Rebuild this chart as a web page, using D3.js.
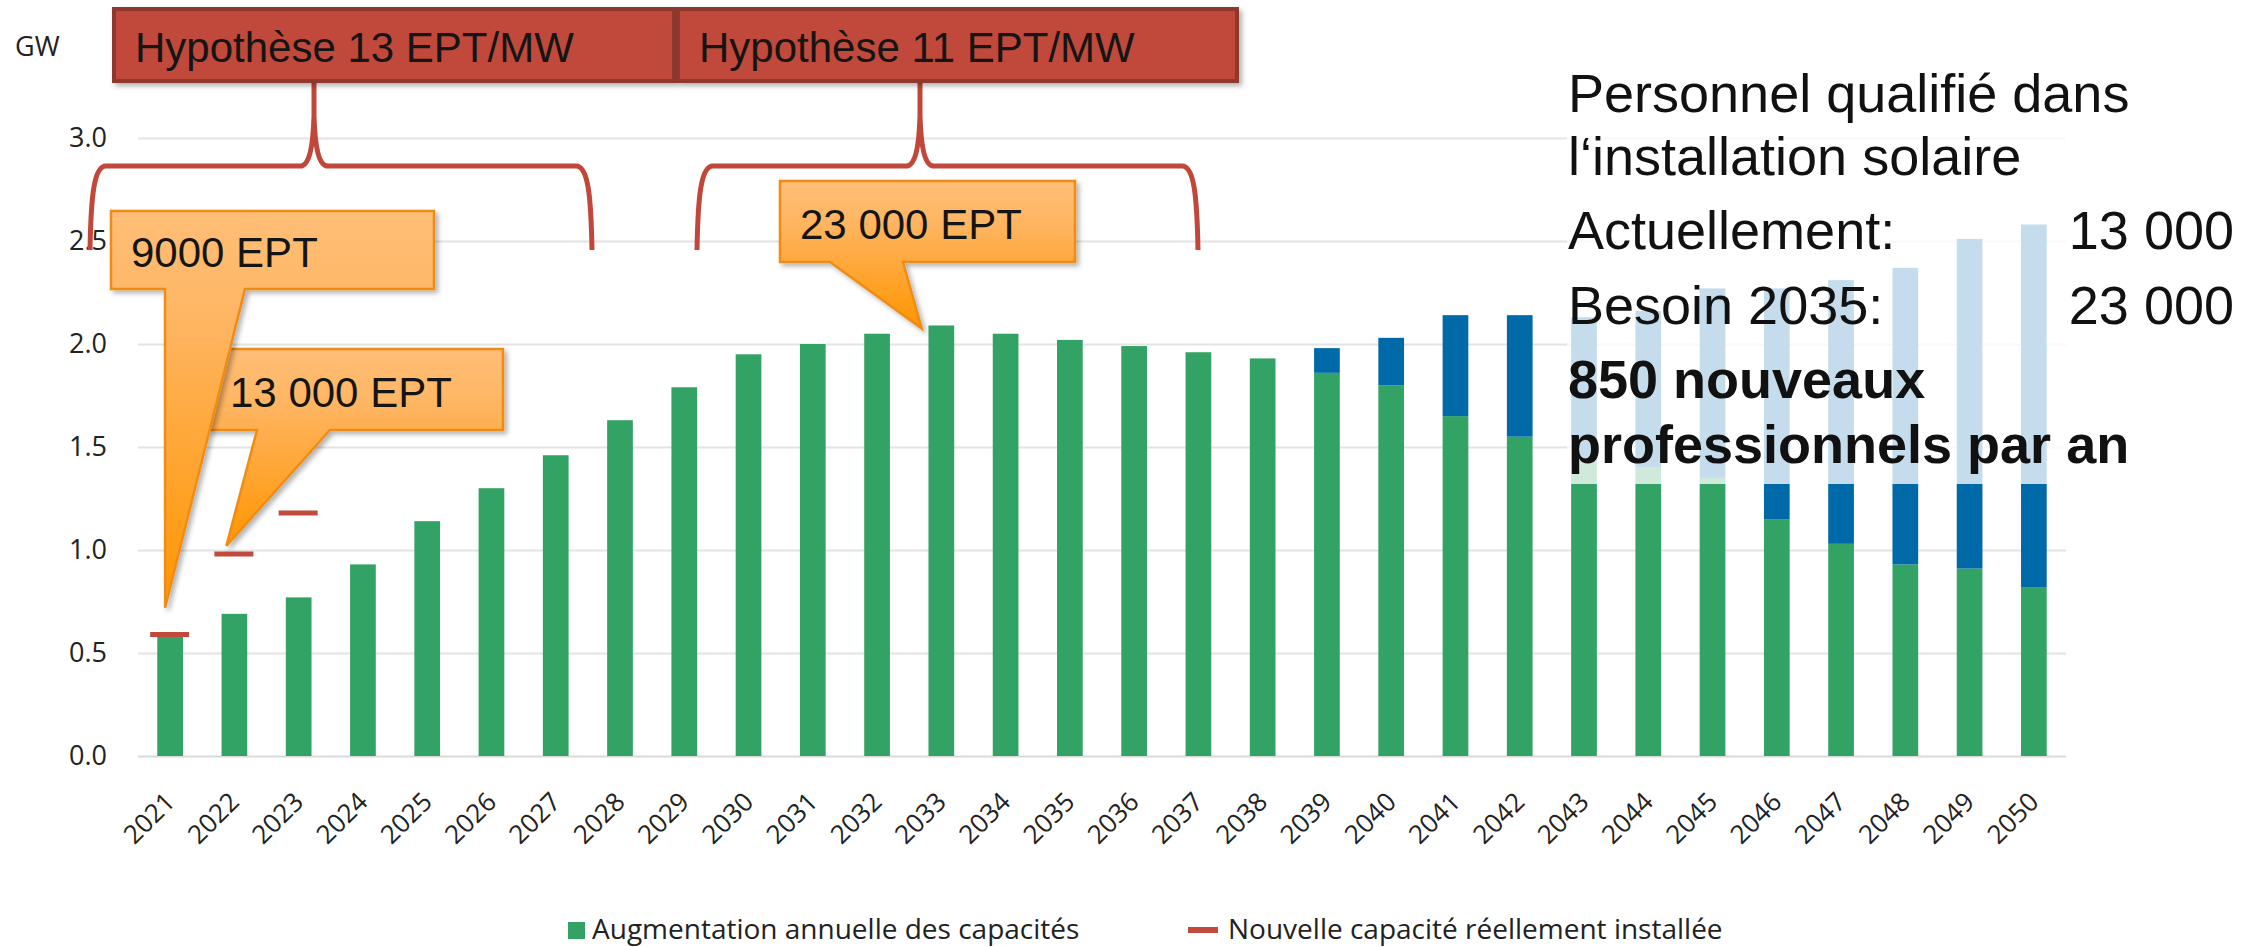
<!DOCTYPE html>
<html><head><meta charset="utf-8">
<script src="https://cdn.jsdelivr.net/npm/d3@7"></script>
<style>
html,body{margin:0;padding:0;background:#fff;}
svg{display:block;}
</style>
</head><body>
<script>
// ---- data ----
const years = ["2021","2022","2023","2024","2025","2026","2027","2028","2029","2030","2031","2032","2033","2034","2035","2036","2037","2038","2039","2040","2041","2042","2043","2044","2045","2046","2047","2048","2049","2050"];
const greenValues = [0.58,0.69,0.77,0.93,1.14,1.30,1.46,1.63,1.79,1.95,2.00,2.05,2.09,2.05,2.02,1.99,1.96,1.93,1.86,1.80,1.65,1.55,1.43,1.40,1.35,1.15,1.03,0.93,0.91,0.82];
const blueValues  = [0,0,0,0,0,0,0,0,0,0,0,0,0,0,0,0,0,0,0.12,0.23,0.49,0.59,0.70,0.76,0.92,1.12,1.28,1.44,1.60,1.76];
const installedYears = ["2021","2022","2023"];
const installedValues = [0.59,0.98,1.18];
const yTicks = [0,0.5,1.0,1.5,2.0,2.5,3.0];
const legendLabels = ["Augmentation annuelle des capacités","Nouvelle capacité réellement installée"];
const hypoLabels = ["Hypothèse 13 EPT/MW","Hypothèse 11 EPT/MW"];
const calloutLabels = ["13 000 EPT","9000 EPT","23 000 EPT"];
const calloutYears = ["2022","2021","2033"];
const calloutTipValues = [1.02,0.72,2.075];
const infoLines = ["Personnel qualifié dans","l‘installation solaire"];
const infoRows = [["Actuellement:","13 000"],["Besoin 2035:","23 000"]];
const boldLines = ["850 nouveaux","professionnels par an"];

(function(){
// ---- layout ----
const W = 2266, H = 947;
const pLeft = 138, pRight = 2066, pTop = 138, pBottom = 756;
const GREEN = "#33a365", BLUE = "#0069a8", RED = "#c24a3d";
const SANS = "'Liberation Sans', Arial, sans-serif";
const CAL = "'Open Sans', sans-serif";

const svg = d3.select("body").append("svg").attr("width", W).attr("height", H);
svg.append("rect").attr("width", W).attr("height", H).attr("fill", "#fff");

const defs = svg.append("defs");
const grad = defs.append("linearGradient").attr("id","og").attr("x1",0).attr("y1",0).attr("x2",0).attr("y2",1);
grad.append("stop").attr("offset",0).attr("stop-color","#ffbe76");
grad.append("stop").attr("offset",0.25).attr("stop-color","#ffb665");
grad.append("stop").attr("offset",1).attr("stop-color","#ff9500");
const sh = defs.append("filter").attr("id","sh").attr("x","-10%").attr("y","-10%").attr("width","130%").attr("height","130%");
sh.append("feDropShadow").attr("dx",3).attr("dy",3).attr("stdDeviation",2.5).attr("flood-color","#000").attr("flood-opacity",0.3);

const x = d3.scaleBand().domain(years).range([pLeft, pRight]).paddingInner(0.6).paddingOuter(0.3);
const y = d3.scaleLinear().domain([0, 3]).range([pBottom, pTop]);

// y axis + gridlines
const yAxis = d3.axisLeft(y).tickValues(yTicks).tickFormat(d3.format(".1f"))
  .tickSize(-(pRight - pLeft)).tickPadding(31);
const gy = svg.append("g").attr("transform", `translate(${pLeft},0)`).call(yAxis);
gy.select(".domain").remove();
gy.selectAll(".tick line").attr("stroke", d => d === 0 ? "#d9d9d9" : "#e3e3e3").attr("stroke-width", 2);
gy.selectAll(".tick text").attr("font-family", CAL).attr("font-size", 27).attr("fill", "#222");

svg.append("text").attr("x", 15).attr("y", 56).attr("font-family", CAL).attr("font-size", 27).attr("fill", "#222").text("GW");

// x axis
const xAxis = d3.axisBottom(x).tickSize(0).tickPadding(0);
const gx = svg.append("g").attr("transform", `translate(0,${pBottom})`).call(xAxis);
gx.select(".domain").remove();
gx.selectAll(".tick text")
  .attr("font-family", CAL).attr("font-size", 26).attr("fill", "#222")
  .attr("text-anchor", "end").attr("dy", "0.35em").attr("y", 0)
  .attr("transform", "translate(0,41) rotate(-45)");

// bars
const bw = x.bandwidth();
svg.append("g").selectAll("rect").data(years).join("rect")
  .attr("x", d => x(d)).attr("width", bw)
  .attr("y", (d,i) => y(greenValues[i])).attr("height", (d,i) => y(0) - y(greenValues[i]))
  .attr("fill", GREEN);
svg.append("g").selectAll("rect").data(years.filter((d,i) => blueValues[i] > 0)).join("rect")
  .attr("x", d => x(d)).attr("width", bw)
  .attr("y", d => { const i = years.indexOf(d); return y(greenValues[i] + blueValues[i]); })
  .attr("height", d => { const i = years.indexOf(d); return y(greenValues[i]) - y(greenValues[i] + blueValues[i]); })
  .attr("fill", BLUE);

// installed capacity markers
svg.append("g").selectAll("line").data(installedYears).join("line")
  .attr("x1", d => x(d) + bw/2 - 20).attr("x2", d => x(d) + bw/2 + 19)
  .attr("y1", (d,i) => y(installedValues[i])).attr("y2", (d,i) => y(installedValues[i]))
  .attr("stroke", RED).attr("stroke-width", 5);

// translucent text panel
svg.append("rect").attr("x", 1567).attr("y", 55).attr("width", 690).attr("height", 484 - 55)
  .attr("fill", "#fff").attr("fill-opacity", 0.77);

// braces
function brace(l, s, r) {
  const yb = 250, yh = 166, yt = 82;
  return `M ${l},${yb} C ${l+1},${yb-55} ${l+4},${yh} ${l+16},${yh} L ${s-14},${yh} C ${s-5},${yh} ${s-1},${yh-18} ${s},${yh-50} L ${s},${yt} ` +
         `M ${s},${yh-50} C ${s+1},${yh-18} ${s+5},${yh} ${s+14},${yh} L ${r-16},${yh} C ${r-4},${yh} ${r-1},${yb-55} ${r},${yb}`;
}
svg.append("path").attr("d", brace(90, 314, 592)).attr("fill","none").attr("stroke","#c0473a").attr("stroke-width",5);
svg.append("path").attr("d", brace(697, 920, 1198)).attr("fill","none").attr("stroke","#c0473a").attr("stroke-width",5);

// hypothesis boxes
const hypoBoxes = [[114, 560], [678, 559]];
hypoBoxes.forEach((b, i) => {
  svg.append("rect").attr("x", b[0]).attr("y", 9).attr("width", b[1]).attr("height", 72)
    .attr("fill", "#c0493a").attr("stroke", "#8e382d").attr("stroke-width", 4).attr("filter","url(#sh)");
  svg.append("text").attr("x", b[0] + 21).attr("y", 62).attr("font-family", SANS).attr("font-size", 42)
    .attr("fill", "#151515").text(hypoLabels[i]);
});

// callouts
const calloutBoxes = [
  {box:[208,349,503,430], base:[257,330], tipDx:-8, tx:230, ty:407},
  {box:[111,211,434,289], base:[165,245], tipDx:-5, tx:131, ty:267},
  {box:[780,181,1075,262], base:[830,903], tipDx:-19.5, tx:800, ty:239}
];
calloutBoxes.forEach((c, i) => {
  const [x0,y0,x1,y1] = c.box;
  const tx = x(calloutYears[i]) + bw/2 + c.tipDx;
  const ty = y(calloutTipValues[i]);
  const p = `M ${x0},${y0} L ${x1},${y0} L ${x1},${y1} L ${c.base[1]},${y1} L ${tx},${ty} L ${c.base[0]},${y1} L ${x0},${y1} Z`;
  svg.append("path").attr("d", p).attr("fill", "url(#og)").attr("stroke", "#f08c14").attr("stroke-width", 2.5)
    .attr("stroke-linejoin","miter").attr("filter","url(#sh)");
  svg.append("text").attr("x", c.tx).attr("y", c.ty).attr("font-family", SANS).attr("font-size", 42)
    .attr("fill", "#151515").text(calloutLabels[i]);
});

// info text
const tx0 = 1568, txR = 2234;
[112, 175].forEach((yy, i) => svg.append("text").attr("x", tx0).attr("y", yy).attr("font-family", SANS)
  .attr("font-size", 54).attr("fill", "#111").text(infoLines[i]));
[249, 324].forEach((yy, i) => {
  svg.append("text").attr("x", tx0).attr("y", yy).attr("font-family", SANS).attr("font-size", 54).attr("fill", "#111").text(infoRows[i][0]);
  svg.append("text").attr("x", txR).attr("y", yy).attr("text-anchor","end").attr("font-family", SANS).attr("font-size", 54).attr("fill", "#111").text(infoRows[i][1]);
});
[398, 463].forEach((yy, i) => svg.append("text").attr("x", tx0).attr("y", yy).attr("font-family", SANS)
  .attr("font-size", 54).attr("font-weight", "bold").attr("fill", "#111").text(boldLines[i]));

// legend
const lg = svg.append("g");
lg.append("rect").attr("x", 568).attr("y", 922).attr("width", 17).attr("height", 17).attr("fill", GREEN);
lg.append("text").attr("x", 592).attr("y", 939).attr("font-family", CAL).attr("font-size", 28).attr("fill", "#222").text(legendLabels[0]);
lg.append("line").attr("x1", 1188).attr("x2", 1218).attr("y1", 930).attr("y2", 930).attr("stroke", RED).attr("stroke-width", 6);
lg.append("text").attr("x", 1228).attr("y", 939).attr("font-family", CAL).attr("font-size", 28).attr("fill", "#222").text(legendLabels[1]);
})();
</script>
</body></html>
